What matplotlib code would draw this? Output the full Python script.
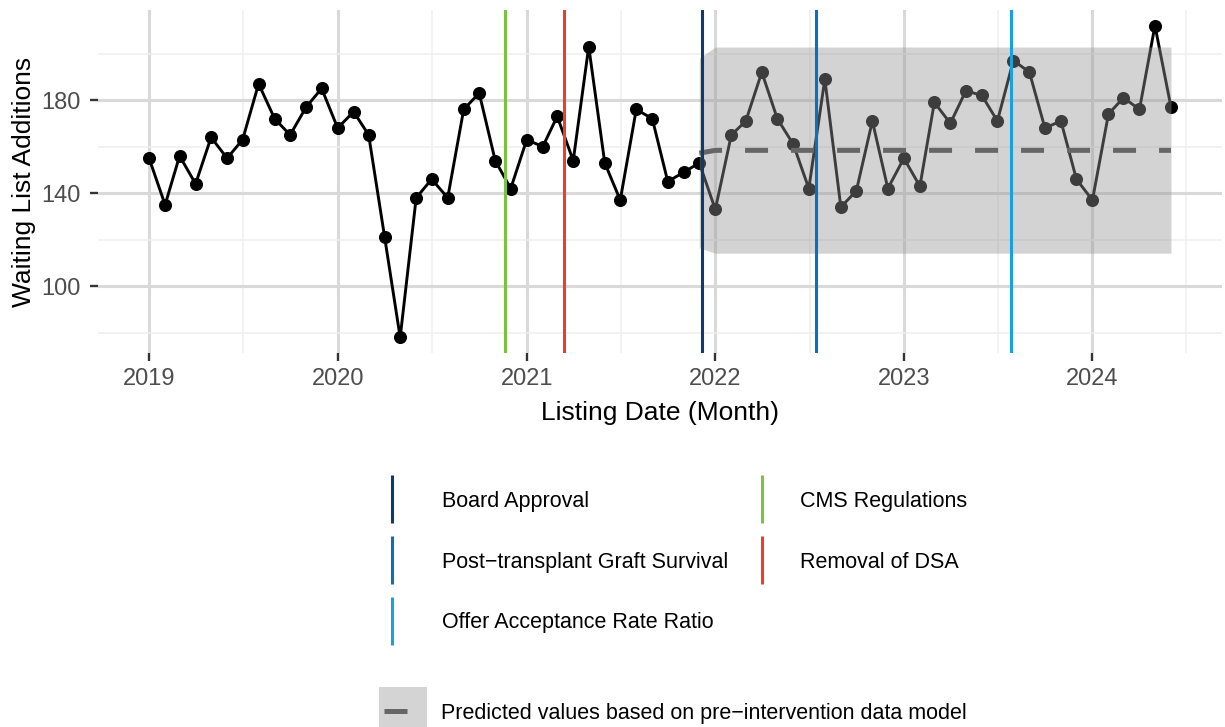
import pandas as pd
import matplotlib
matplotlib.use('Agg')
import matplotlib.pyplot as plt
import matplotlib.dates as mdates
from matplotlib.lines import Line2D

plt.rcParams['font.family'] = ['Liberation Sans', 'DejaVu Sans']

# waiting list additions per month, Jan 2019 - Jun 2024
months = pd.date_range('2019-01-01', '2024-06-01', freq='MS')
additions = [
    155, 135, 156, 144, 164, 155, 163, 187, 172, 165, 177, 185,  # 2019
    168, 175, 165, 121, 78, 138, 146, 138, 176, 183, 154, 142,   # 2020
    163, 160, 173, 154, 203, 153, 137, 176, 172, 145, 149, 153,  # 2021
    133, 165, 171, 192, 172, 161, 142, 189, 134, 141, 171, 142,  # 2022
    155, 143, 179, 170, 184, 182, 171, 197, 192, 168, 171, 146,  # 2023
    137, 174, 181, 176, 212, 177,                                # 2024
]

# prediction from the pre-intervention model, Dec 2021 - Jun 2024
pred_months = pd.date_range('2021-12-01', '2024-06-01', freq='MS')
pred_mean = [
    157.2,
    158.4, 158.4, 158.4, 158.4, 158.4, 158.4, 158.4, 158.4, 158.4, 158.4, 158.4, 158.4,
    158.4, 158.4, 158.4, 158.4, 158.4, 158.4, 158.4, 158.4, 158.4, 158.4, 158.4, 158.4,
    158.4, 158.4, 158.4, 158.4, 158.4, 158.4,
]
pred_lower = [
    116.5,
    114.2, 114.2, 114.2, 114.2, 114.2, 114.2, 114.2, 114.2, 114.2, 114.2, 114.2, 114.2,
    114.2, 114.2, 114.2, 114.2, 114.2, 114.2, 114.2, 114.2, 114.2, 114.2, 114.2, 114.2,
    114.2, 114.2, 114.2, 114.2, 114.2, 114.2,
]
pred_upper = [
    198.0,
    202.8, 202.8, 202.8, 202.8, 202.8, 202.8, 202.8, 202.8, 202.8, 202.8, 202.8, 202.8,
    202.8, 202.8, 202.8, 202.8, 202.8, 202.8, 202.8, 202.8, 202.8, 202.8, 202.8, 202.8,
    202.8, 202.8, 202.8, 202.8, 202.8, 202.8,
]

# policy events
events = ['Board Approval', 'Post\u2212transplant Graft Survival',
          'Offer Acceptance Rate Ratio', 'CMS Regulations', 'Removal of DSA']
event_dates = pd.to_datetime(['2021-12-06', '2022-07-14', '2023-07-27',
                              '2020-11-20', '2021-03-15'])
event_colors = ['#0c3b6f', '#0b6fbd', '#1aa0de', '#7cc242', '#e8402b']

fig = plt.figure(figsize=(12.25, 7.27), dpi=100)
ax = fig.add_axes([0.080, 0.5144, 0.9176, 0.4718])

ax.plot(months, additions, color='black', lw=2.1, marker='o', ms=8.4, zorder=2)
ax.fill_between(pred_months, pred_lower, pred_upper, color='#959595',
                alpha=0.41, lw=0, zorder=3)
ax.plot(pred_months, pred_mean, color='#666666', lw=3.6,
        linestyle=(0, (4.6, 4.6)), zorder=4)
for d, c in zip(event_dates, event_colors):
    ax.axvline(d, color=c, lw=2.2, zorder=5)

# ggplot-like 5% expansion
x0, x1 = mdates.date2num(months[0]), mdates.date2num(months[-1])
ax.set_xlim(x0 - 0.05 * (x1 - x0), x1 + 0.05 * (x1 - x0))
lo, hi = min(additions), max(additions)
ax.set_ylim(lo - 0.05 * (hi - lo), hi + 0.05 * (hi - lo))

years = pd.date_range('2019-01-01', '2024-01-01', freq='YS')
ax.set_xticks(years)
ax.set_xticklabels([str(y.year) for y in years])
mids = [years[i] + (years[i + 1] - years[i]) / 2 for i in range(len(years) - 1)]
mids.append(years[-1] + pd.Timedelta(days=182))
ax.set_xticks(mids, minor=True)
ax.set_yticks([100, 140, 180])
ax.set_yticks([80, 120, 160, 200], minor=True)

ax.set_axisbelow(True)
ax.grid(which='major', color='#d9d9d9', lw=2.2)
ax.grid(which='minor', color='#efefef', lw=1.1)
for s in ax.spines.values():
    s.set_visible(False)
ax.tick_params(which='major', length=5.8, width=1.7, color='#333333',
               labelsize=17, labelcolor='#4d4d4d')
ax.tick_params(axis='x', which='major', pad=5)
ax.tick_params(axis='y', which='major', pad=6.5)
ax.tick_params(which='minor', length=0)

ax.set_xlabel('Listing Date (Month)', fontsize=19, labelpad=8)
ax.set_ylabel('Waiting List Additions', fontsize=19, labelpad=4)

# legend for the policy lines, one column at a time
handles = [Line2D([], [], color=c, marker='|', linestyle='None',
                  markersize=34, markeredgewidth=2.2) for c in event_colors]
leg_kw = dict(loc='upper left', frameon=False, fontsize=15.5, handlelength=2.0,
              handleheight=0.7, labelspacing=1.84, borderpad=0, borderaxespad=0)
fig.legend(handles[:3], events[:3], bbox_to_anchor=(370.5 / 1225, 1 - 491 / 727),
           handletextpad=1.31, **leg_kw)
fig.legend(handles[3:], events[3:], bbox_to_anchor=(740.5 / 1225, 1 - 491 / 727),
           handletextpad=0.77, **leg_kw)

# legend for the prediction band
band = Line2D([], [], marker='s', linestyle='None', markersize=34,
              markerfacecolor='#d4d4d4', markeredgewidth=0)
dash = Line2D([], [], color='#666666', lw=3.6, linestyle=(13.6, (4.6, 10)))
fig.legend([(band, dash)], ['Predicted values based on pre\u2212intervention data model'],
           loc='upper left', bbox_to_anchor=(379 / 1225, 1 - 703 / 727),
           frameon=False, fontsize=15.5, handlelength=2.19, handleheight=0.7,
           handletextpad=0.7, borderpad=0, borderaxespad=0)

fig.savefig('out.png', dpi=100)
